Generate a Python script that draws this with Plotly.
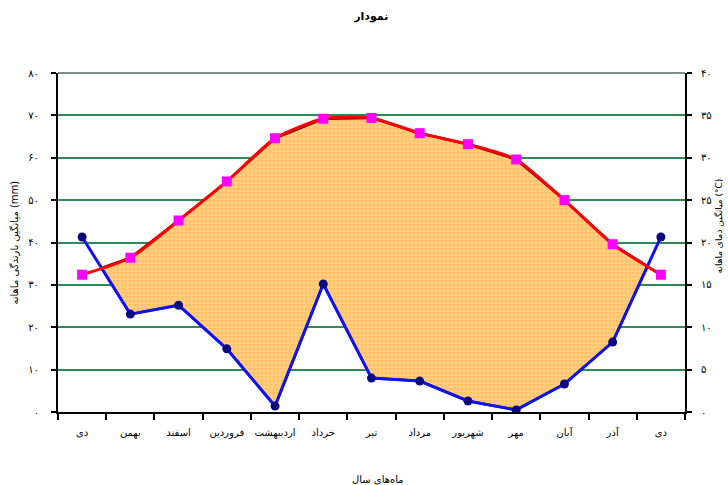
import plotly.graph_objects as go

# Persian month names, starting and ending with Dey
months = ["دی", "بهمن", "اسفند", "فروردین", "اردیبهشت", "خرداد", "تیر",
          "مرداد", "شهریور", "مهر", "آبان", "آذر", "دی"]
# mean monthly precipitation (mm)
precip = [41.3, 23.1, 25.2, 14.9, 1.4, 30.2, 8.0, 7.3, 2.6, 0.5, 6.6, 16.5, 41.3]
# mean monthly temperature (°C)
temp = [16.2, 18.2, 22.6, 27.2, 32.3, 34.6, 34.7, 32.9, 31.6, 29.8, 25.0, 19.8, 16.2]

fa_digits = str.maketrans("0123456789", "۰۱۲۳۴۵۶۷۸۹")
left_ticks = list(range(0, 81, 10))
right_ticks = list(range(0, 41, 5))

x = list(range(len(months)))
t_mm = [2 * t for t in temp]  # temperature on the precipitation scale (P = 2T)

# build the dry-season polygon(s): where 2T > P, with crossing points
px, py = [], []
i = 0
n = len(x)
while i < n - 1:
    d0 = t_mm[i] - precip[i]
    d1 = t_mm[i + 1] - precip[i + 1]
    if d0 > 0 or d1 > 0:
        upper, lower = [], []
        if d0 > 0:
            upper.append((x[i], t_mm[i]))
            lower.append((x[i], precip[i]))
        else:
            f = d0 / (d0 - d1)
            xc = x[i] + f
            yc = precip[i] + f * (precip[i + 1] - precip[i])
            upper.append((xc, yc))
        j = i + 1
        while True:
            dj = t_mm[j] - precip[j]
            if dj > 0:
                upper.append((x[j], t_mm[j]))
                lower.append((x[j], precip[j]))
                if j == n - 1:
                    break
                dn = t_mm[j + 1] - precip[j + 1]
                if dn <= 0:
                    f = dj / (dj - dn)
                    xc = x[j] + f
                    yc = precip[j] + f * (precip[j + 1] - precip[j])
                    upper.append((xc, yc))
                    j += 1
                    break
                j += 1
            else:
                break
        poly = upper + lower[::-1]
        px += [p[0] for p in poly] + [poly[0][0], None]
        py += [p[1] for p in poly] + [poly[0][1], None]
        i = j
    else:
        i += 1

fig = go.Figure()

fig.add_trace(go.Scatter(
    x=px, y=py, mode="lines", fill="toself",
    fillcolor="#FFC46C",
    fillpattern=dict(shape=".", bgcolor="#FFC46C", fgcolor="#FFDDA8",
                     size=4, solidity=0.35),
    line=dict(color="#7A0000", width=2.5),
    hoverinfo="skip", showlegend=False, yaxis="y"))

fig.add_trace(go.Scatter(
    x=x, y=precip, mode="lines+markers",
    line=dict(color="#0A14F0", width=3),
    marker=dict(color="#0A0A80", size=9, symbol="circle"),
    showlegend=False, yaxis="y"))

fig.add_trace(go.Scatter(
    x=x, y=temp, mode="lines+markers",
    line=dict(color="#FF0000", width=3, shape="spline", smoothing=0.6),
    marker=dict(color="#FF00FF", size=10, symbol="square"),
    showlegend=False, yaxis="y2"))

font = "DejaVu Sans"

fig.update_layout(
    width=728, height=485,
    margin=dict(l=58, r=43, t=73, b=73, autoexpand=False),
    paper_bgcolor="white", plot_bgcolor="white",
    font=dict(family=font, color="black", size=10),
    title=dict(text="<b>نمودار</b>", x=0.51, xanchor="center", y=0.975,
               yanchor="top", font=dict(size=11, family=font)),
    xaxis=dict(
        range=[-0.5, len(months) - 0.5], automargin=False,
        tickmode="array", tickvals=x, ticktext=months,
        ticks="", showgrid=False, zeroline=False,
        showline=True, linecolor="black", linewidth=2,
        tickfont=dict(size=10, family=font), ticklabelstandoff=10,
        minor=dict(tickmode="linear", tick0=-0.5, dtick=1, ticks="outside",
                   ticklen=6, tickwidth=2, tickcolor="black", showgrid=False),
    ),
    yaxis=dict(
        range=[0, 80], automargin=False, tickmode="array", tickvals=left_ticks,
        ticktext=[str(v).translate(fa_digits) for v in left_ticks],
        ticks="outside", ticklen=5, tickwidth=2, tickcolor="black",
        showline=True, linecolor="black", linewidth=2,
        showgrid=True, gridcolor="#2E8B57", gridwidth=2,
        zeroline=False, tickfont=dict(size=10, family=font),
        ticklabelstandoff=10,
    ),
    yaxis2=dict(
        range=[0, 40], automargin=False, overlaying="y", side="right",
        tickmode="array", tickvals=right_ticks,
        ticktext=[str(v).translate(fa_digits) for v in right_ticks],
        ticks="outside", ticklen=5, tickwidth=2, tickcolor="black",
        showline=True, linecolor="black", linewidth=2,
        showgrid=False, zeroline=False, tickfont=dict(size=10, family=font),
        ticklabelstandoff=7,
    ),
    shapes=[dict(type="line", xref="x domain", yref="y domain",
                 x0=0, x1=1, y0=1, y1=1,
                 line=dict(color="#7F8F88", width=2), layer="below")],
    annotations=[
        dict(text="ماه‌های سال", xref="paper", yref="paper",
             x=0.51, y=-0.2, xanchor="center", yanchor="middle",
             showarrow=False, font=dict(size=10, family=font)),
        dict(text="میانگین بارندگی ماهانه (mm)", textangle=-90,
             xref="paper", yref="paper", x=-0.07, y=0.5,
             xanchor="center", yanchor="middle", showarrow=False,
             font=dict(size=10, family=font)),
        dict(text="میانگین دمای ماهانه (°C)", textangle=-90,
             xref="paper", yref="paper", x=1.054, y=0.55,
             xanchor="center", yanchor="middle", showarrow=False,
             font=dict(size=9, family=font)),
    ],
)

fig.write_html("out.html")
